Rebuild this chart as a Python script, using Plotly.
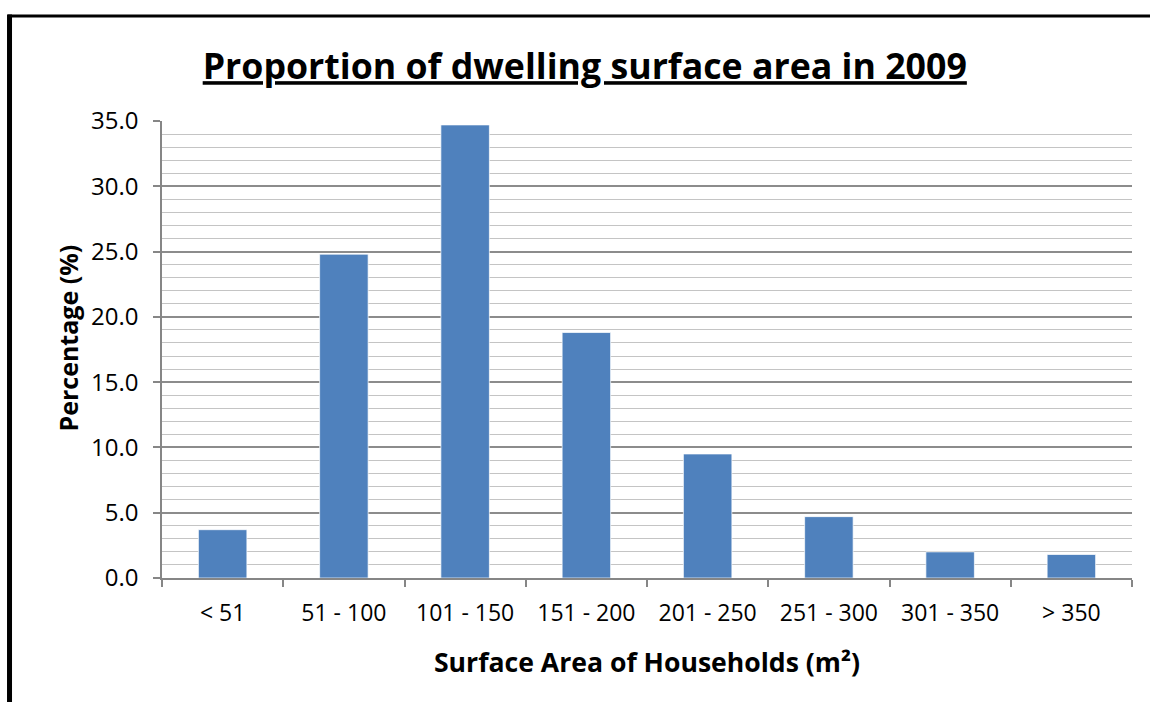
import plotly.graph_objects as go

categories = ["< 51", "51 - 100", "101 - 150", "151 - 200", "201 - 250", "251 - 300", "301 - 350", "> 350"]
percentages = [3.7, 24.8, 34.7, 18.8, 9.5, 4.7, 2.0, 1.8]
y_tick_values = [0, 5, 10, 15, 20, 25, 30, 35]

FONT = "Open Sans"
BAR_COLOR = "#4F81BD"

fig = go.Figure()
fig.add_trace(go.Bar(
    x=categories,
    y=percentages,
    marker=dict(color=BAR_COLOR, line=dict(color="rgba(255,255,255,0.7)", width=1)),
    width=0.4,
    hoverinfo="x+y",
))

fig.update_layout(
    width=1150,
    height=702,
    margin=dict(l=162, r=18, t=121, b=124),
    paper_bgcolor="white",
    plot_bgcolor="white",
    showlegend=False,
    title=dict(
        text="<b>Proportion of dwelling surface area in 2009</b>",
        x=0.5085, xanchor="center",
        y=0.905, yanchor="middle",
        font=dict(family=FONT, size=35.7, color="black", lineposition="under"),
    ),
    xaxis=dict(
        type="category",
        showline=True, linecolor="#868686", linewidth=1.5,
        ticks="outside", tickson="boundaries", ticklen=7, tickcolor="#868686", tickwidth=1.5,
        tickfont=dict(family=FONT, size=23, color="black"),
        ticklabelstandoff=14,
        title=dict(text="<b>Surface Area of Households (m²)</b>",
                   font=dict(family=FONT, size=26.6, color="black"), standoff=26),
        showgrid=False,
    ),
    yaxis=dict(
        range=[0, 35],
        tickvals=y_tick_values,
        tickformat=".1f",
        showline=True, linecolor="#868686", linewidth=1.5,
        ticks="outside", ticklen=7, tickcolor="#868686", tickwidth=1.5,
        tickfont=dict(family=FONT, size=24, color="black"),
        ticklabelstandoff=10,
        showgrid=True, gridcolor="#8C8C8C", gridwidth=1.5,
        minor=dict(dtick=1, showgrid=True, gridcolor="#C4C4C4", gridwidth=1.3),
        zeroline=False,
    ),
    annotations=[dict(
        text="<b>Percentage (%)</b>",
        xref="paper", yref="paper", x=-0.0969, y=0.524,
        xanchor="center", yanchor="middle", textangle=-90, showarrow=False,
        font=dict(family=FONT, size=25, color="black"),
    )],
)

# outer frame (top and left edges visible)
fig.add_shape(type="line", xref="paper", yref="paper",
              x0=-0.159, x1=1.03, y0=1.2298, y1=1.2298,
              line=dict(color="black", width=3))
fig.add_shape(type="line", xref="paper", yref="paper",
              x0=-0.1572, x1=-0.1572, y0=1.2330, y1=-0.3,
              line=dict(color="black", width=5))

fig.write_html("out.html")
